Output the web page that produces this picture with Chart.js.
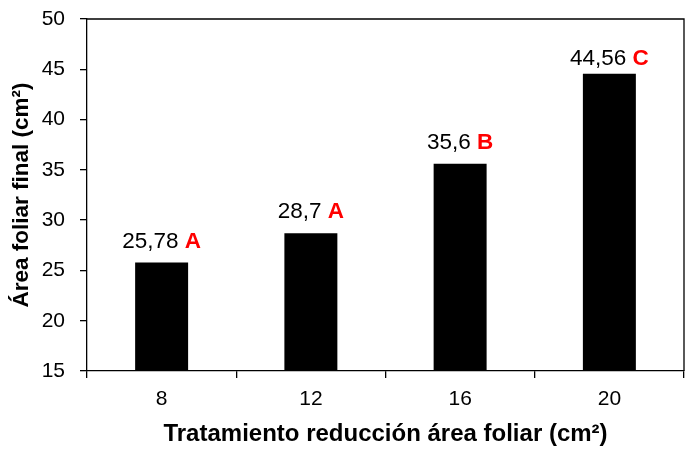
<!DOCTYPE html>
<html>
<head>
<meta charset="utf-8">
<script src="https://cdn.jsdelivr.net/npm/chart.js@4/dist/chart.umd.min.js"></script>
<style>
  html, body { margin: 0; padding: 0; background: #fff; }
  #wrap { width: 689px; height: 449px; }
</style>
</head>
<body>
<div id="wrap"><canvas id="c" width="689" height="449"></canvas></div>
<script>
const categories = ['8', '12', '16', '20'];
const values = [25.78, 28.7, 35.6, 44.56];
const valueLabels = ['25,78', '28,7', '35,6', '44,56'];
const letters = ['A', 'A', 'B', 'C'];
const yTicks = [15, 20, 25, 30, 35, 40, 45, 50];
const xTitle = 'Tratamiento reducción área foliar (cm²)';
const yTitle = 'Área foliar final (cm²)';

const FONT = 'Liberation Sans, Arial, Helvetica, sans-serif';
const TICK_SIZE = 21;
const LABEL_SIZE = 22.5;

const labelPlugin = {
  id: 'barLabels',
  afterDatasetsDraw(chart) {
    const ctx = chart.ctx;
    const a = chart.chartArea;
    const meta = chart.getDatasetMeta(0);
    ctx.save();
    ctx.textBaseline = 'alphabetic';
    meta.data.forEach((bar, i) => {
      const numTxt = valueLabels[i] + ' ';
      const letTxt = letters[i];
      ctx.font = LABEL_SIZE + 'px ' + FONT;
      const w1 = ctx.measureText(numTxt).width;
      ctx.font = 'bold ' + LABEL_SIZE + 'px ' + FONT;
      const w2 = ctx.measureText(letTxt).width;
      const start = bar.x - (w1 + w2) / 2;
      const y = Math.max(bar.y - 15, a.top + 46);
      ctx.font = LABEL_SIZE + 'px ' + FONT;
      ctx.fillStyle = '#000';
      ctx.textAlign = 'left';
      ctx.fillText(numTxt, start, y);
      ctx.font = 'bold ' + LABEL_SIZE + 'px ' + FONT;
      ctx.fillStyle = '#ff0000';
      ctx.fillText(letTxt, start + w1, y);
    });
    ctx.restore();
  }
};

const framePlugin = {
  id: 'frame',
  afterDraw(chart) {
    const a = chart.chartArea;
    const ctx = chart.ctx;
    ctx.save();
    ctx.strokeStyle = '#000';
    ctx.lineWidth = 1.3;
    ctx.beginPath();
    ctx.moveTo(a.left, a.top);
    ctx.lineTo(a.right, a.top);
    ctx.lineTo(a.right, a.bottom);
    ctx.stroke();
    ctx.restore();
  }
};

new Chart(document.getElementById('c'), {
  type: 'bar',
  data: {
    labels: categories,
    datasets: [{
      data: values,
      backgroundColor: '#000',
      borderWidth: 0,
      categoryPercentage: 1.0,
      barPercentage: 0.355
    }]
  },
  options: {
    responsive: false,
    animation: false,
    devicePixelRatio: 1,
    layout: { padding: { top: 19, right: 5, left: 0, bottom: 0 } },
    plugins: { legend: { display: false }, tooltip: { enabled: false } },
    scales: {
      x: {
        offset: true,
        grid: { offset: true, drawOnChartArea: false, color: '#000', tickLength: 7, lineWidth: 1.3 },
        border: { display: true, color: '#000', width: 1.3 },
        ticks: { color: '#000', font: { family: FONT, size: TICK_SIZE }, padding: 9, maxRotation: 0 },
        title: { display: true, text: xTitle, color: '#000', font: { family: FONT, size: 24, weight: 'bold' }, padding: { top: 0, bottom: 0 } },
        afterFit(scale) { scale.height = 78; scale.paddingLeft = 0; scale.paddingRight = 0; }
      },
      y: {
        min: 15, max: 50,
        afterBuildTicks(scale) { scale.ticks = yTicks.map(v => ({ value: v })); },
        grid: { drawOnChartArea: false, color: '#000', tickLength: 7, lineWidth: 1.3 },
        border: { display: true, color: '#000', width: 1.3 },
        ticks: { color: '#000', font: { family: FONT, size: TICK_SIZE }, padding: 15 },
        title: { display: true, text: yTitle, color: '#000', font: { family: FONT, size: 22.5, weight: 'bold' }, padding: { top: 8, bottom: 0 } },
        afterFit(scale) { scale.width = 87; scale.paddingTop = 0; scale.paddingBottom = 0; }
      }
    }
  },
  plugins: [labelPlugin, framePlugin]
});
</script>
</body>
</html>
